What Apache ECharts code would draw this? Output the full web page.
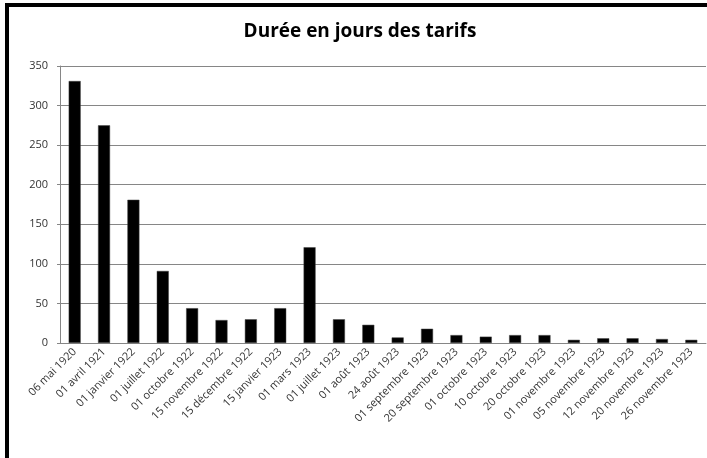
<!DOCTYPE html>
<html>
<head>
<meta charset="utf-8">
<script src="https://cdn.jsdelivr.net/npm/echarts@6/dist/echarts.min.js"></script>
<style>
  html, body { margin: 0; padding: 0; background: #fff; }
  #container { width: 707px; height: 458px; }
</style>
</head>
<body>
<div id="container"></div>
<script>
var dates = ['06 mai 1920', '01 avril 1921', '01 janvier 1922', '01 juillet 1922', '01 octobre 1922',
    '15 novembre 1922', '15 décembre 1922', '15 janvier 1923', '01 mars 1923', '01 juillet 1923',
    '01 août 1923', '24 août 1923', '01 septembre 1923', '20 septembre 1923', '01 octobre 1923',
    '10 octobre 1923', '20 octobre 1923', '01 novembre 1923', '05 novembre 1923', '12 novembre 1923',
    '20 novembre 1923', '26 novembre 1923'];
var durees = [331, 275, 181, 91, 44, 29, 30, 44, 121, 30, 23, 7, 18, 10, 8, 10, 10, 4, 6, 6, 5, 4];
var yTicks = [0, 50, 100, 150, 200, 250, 300, 350];

var dom = document.getElementById("container");
var myChart = echarts.init(dom);
var option = {
    animation: false,
    title: {
        text: 'Durée en jours des tarifs',
        left: 355,
        top: 17,
        textAlign: 'center',
        textStyle: {
            fontFamily: 'Open Sans',
            fontSize: 19,
            fontWeight: 'bold',
            color: '#000'
        }
    },
    graphic: [{
        type: 'rect',
        shape: { x: 7, y: 5, width: 760, height: 520 },
        style: { fill: 'none', stroke: '#000', lineWidth: 4 },
        silent: true
    }],
    grid: {
        left: 60,
        right: 1,
        top: 66,
        bottom: 115
    },
    xAxis: {
        type: 'category',
        data: dates,
        axisLine: { lineStyle: { color: '#868686' } },
        axisTick: { length: 4, lineStyle: { color: '#868686' } },
        axisLabel: {
            rotate: 45,
            interval: 0,
            fontFamily: 'Open Sans',
            fontSize: 11,
            color: '#333',
            margin: 7
        }
    },
    yAxis: {
        type: 'value',
        min: yTicks[0],
        max: yTicks[yTicks.length - 1],
        interval: 50,
        axisLine: { show: true, lineStyle: { color: '#868686' } },
        axisTick: { show: true, length: 3, lineStyle: { color: '#868686' } },
        splitLine: { lineStyle: { color: '#868686' } },
        axisLabel: {
            fontFamily: 'Open Sans',
            fontSize: 11,
            color: '#333',
            margin: 12
        }
    },
    series: [{
        name: 'Durée',
        type: 'bar',
        data: durees,
        barWidth: 12,
        itemStyle: { color: '#000', borderColor: '#444', borderWidth: 0.5 }
    }]
};
myChart.setOption(option, true);
</script>
</body>
</html>
